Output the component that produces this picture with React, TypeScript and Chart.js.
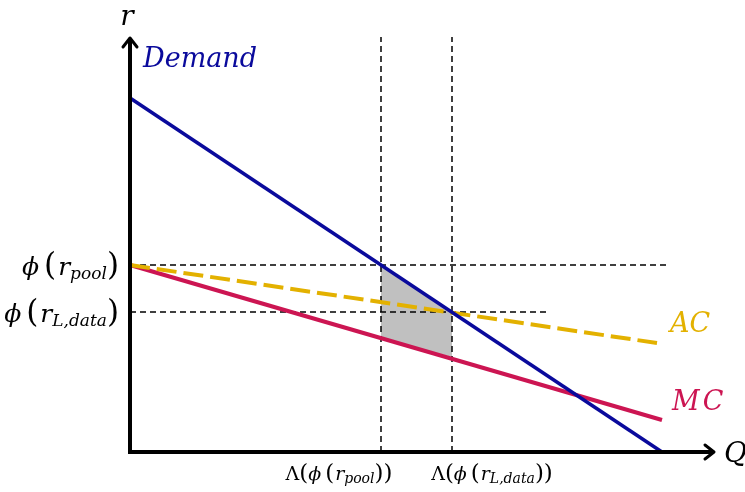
import React, { useEffect, useRef } from "react";
import { Chart, registerables } from "chart.js";

Chart.register(...registerables);

// Curves (Q, r) in chart units
const demandQ = [0, 532];
const demandR = [354, 0];
const mcQ = [0, 532];
const mcR = [187, 32];
const acQ = [0, 527];
const acR = [187, 109];

// Key levels
const rPool = 187;
const rData = 140;
const qPool = 251;
const qData = 322;

// Guide-line extents
const hPoolEnd = 537;
const hDataEnd = 418;
const vTop = 415;

// Shaded region
const shadeQ = [251, 322, 322, 251];
const shadeR = [187, 140, 95, 114];

const Q_MAX = 584;
const R_MAX = 416;

const FONT = '"DejaVu Serif"';

type Run = { t: string; size: number; italic?: boolean; dy?: number; gap?: number };

function drawRuns(ctx: CanvasRenderingContext2D, runs: Run[], x: number, y: number, align: "left" | "right" | "center", color: string) {
  const font = (r: Run) => `${r.italic ? "italic " : ""}${r.size}px ${FONT}`;
  let w = 0;
  for (const r of runs) {
    ctx.font = font(r);
    w += ctx.measureText(r.t).width + (r.gap || 0);
  }
  let cx = align === "left" ? x : align === "right" ? x - w : x - w / 2;
  ctx.fillStyle = color;
  ctx.textAlign = "left";
  ctx.textBaseline = "alphabetic";
  for (const r of runs) {
    ctx.font = font(r);
    ctx.fillText(r.t, cx, y + (r.dy || 0));
    cx += ctx.measureText(r.t).width + (r.gap || 0);
  }
}

const pts = (xs: number[], ys: number[]) => xs.map((x, i) => ({ x, y: ys[i] }));

const overlay = {
  id: "overlay",
  afterDatasetsDraw(chart: any) {
    const ctx: CanvasRenderingContext2D = chart.ctx;
    const xs = chart.scales.x;
    const ys = chart.scales.y;
    const x0 = xs.getPixelForValue(0);
    const y0 = ys.getPixelForValue(0);
    const xEnd = xs.getPixelForValue(Q_MAX);
    const yEnd = ys.getPixelForValue(R_MAX - 2);
    ctx.save();
    ctx.strokeStyle = "#000";
    ctx.lineWidth = 4;
    ctx.lineCap = "butt";
    ctx.beginPath();
    ctx.moveTo(x0, y0 + 2);
    ctx.lineTo(x0, yEnd + 1);
    ctx.moveTo(x0 - 2, y0);
    ctx.lineTo(xEnd - 1, y0);
    ctx.stroke();
    // arrowheads
    ctx.lineWidth = 3;
    ctx.lineCap = "round";
    ctx.lineJoin = "round";
    ctx.beginPath();
    ctx.moveTo(x0 - 7, yEnd + 9);
    ctx.lineTo(x0, yEnd);
    ctx.lineTo(x0 + 7, yEnd + 9);
    ctx.moveTo(xEnd - 9, y0 - 7);
    ctx.lineTo(xEnd, y0);
    ctx.lineTo(xEnd - 9, y0 + 7);
    ctx.stroke();
    ctx.restore();

    ctx.save();
    drawRuns(ctx, [{ t: "r", size: 28, italic: true }], x0 - 3, 25, "center", "#000");
    drawRuns(ctx, [{ t: "Q", size: 28, italic: true }], xEnd + 10, y0 + 10, "left", "#000");
    drawRuns(ctx, [{ t: "Demand", size: 27, italic: true }], x0 + 13, 67, "left", "#0a0a9c");
    drawRuns(ctx, [{ t: "AC", size: 27, italic: true }], 670, 332, "left", "#e3b100");
    drawRuns(ctx, [{ t: "M", size: 27, italic: true, gap: 3 }, { t: "C", size: 27, italic: true }], 672, 410, "left", "#cc1552");

    const yp = ys.getPixelForValue(rPool);
    const yd = ys.getPixelForValue(rData);
    drawRuns(ctx, [
      { t: "ϕ", size: 25, italic: true, gap: 5 },
      { t: "(", size: 31, gap: 2 },
      { t: "r", size: 25, italic: true },
      { t: "pool", size: 17, italic: true, dy: 4 },
      { t: ")", size: 31 },
    ], x0 - 11, yp + 10, "right", "#000");
    drawRuns(ctx, [
      { t: "ϕ", size: 25, italic: true, gap: 5 },
      { t: "(", size: 31, gap: 2 },
      { t: "r", size: 25, italic: true },
      { t: "L,data", size: 17, italic: true, dy: 4 },
      { t: ")", size: 31 },
    ], x0 - 11, yd + 10, "right", "#000");

    const xp = xs.getPixelForValue(qPool);
    const xd = xs.getPixelForValue(qData);
    const xl = (sub: string): Run[] => [
      { t: "Λ", size: 19 },
      { t: "(", size: 23 },
      { t: "ϕ", size: 19, italic: true, gap: 4 },
      { t: "(", size: 23, gap: 1 },
      { t: "r", size: 19, italic: true },
      { t: sub, size: 14, italic: true, dy: 3 },
      { t: ")", size: 23 },
      { t: ")", size: 23 },
    ];
    drawRuns(ctx, xl("pool"), xp - 42, y0 + 28, "center", "#000");
    drawRuns(ctx, xl("L,data"), xd + 40, y0 + 28, "center", "#000");
    ctx.restore();
  },
};

export default function App() {
  const ref = useRef<HTMLCanvasElement | null>(null);
  useEffect(() => {
    if (!ref.current) return;
    const dash = { borderColor: "#000", borderWidth: 1.5, borderDash: [6, 4], pointRadius: 0, showLine: true, fill: false, order: 5 };
    const chart = new Chart(ref.current, {
      type: "scatter",
      data: {
        datasets: [
          {
            data: pts(shadeQ, shadeR),
            showLine: true,
            borderWidth: 0,
            borderColor: "rgba(0,0,0,0)",
            backgroundColor: "#c0c0c0",
            fill: "shape",
            pointRadius: 0,
            order: 10,
          } as any,
          { ...dash, data: pts([0, hPoolEnd], [rPool, rPool]) },
          { ...dash, data: pts([0, hDataEnd], [rData, rData]) },
          { ...dash, data: pts([qPool, qPool], [0, vTop]) },
          { ...dash, data: pts([qData, qData], [0, vTop]) },
          { data: pts(mcQ, mcR), borderColor: "#cc1552", borderWidth: 4, pointRadius: 0, showLine: true, order: 3 },
          { data: pts(acQ, acR), borderColor: "#e3b100", borderWidth: 4, borderDash: [20, 7], pointRadius: 0, showLine: true, order: 2 },
          { data: pts(demandQ, demandR), borderColor: "#0a0a9c", borderWidth: 3.5, pointRadius: 0, showLine: true, order: 1 },
        ] as any,
      },
      options: {
        animation: false,
        responsive: false,
        layout: { padding: { left: 130, right: 31, top: 36, bottom: 40 } },
        scales: {
          x: { type: "linear", min: 0, max: Q_MAX, display: false },
          y: { type: "linear", min: 0, max: R_MAX, display: false },
        },
        plugins: { legend: { display: false }, tooltip: { enabled: false } },
        elements: { line: { tension: 0 } },
        clip: false as any,
      } as any,
      plugins: [overlay],
    });
    return () => chart.destroy();
  }, []);
  return (
    <canvas
      ref={ref}
      width={745}
      height={492}
      style={{ position: "absolute", left: 0, top: 0, width: 745, height: 492 }}
    />
  );
}
